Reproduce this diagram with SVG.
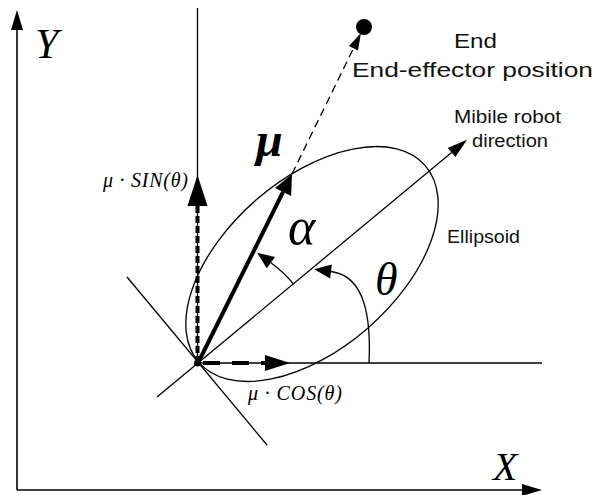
<svg xmlns="http://www.w3.org/2000/svg" width="601" height="495" viewBox="0 0 601 495">
<style>
.thin{stroke:#000;stroke-width:1.3;fill:none}
.ax{stroke:#000;stroke-width:1.6;fill:none}
.thick{stroke:#000;stroke-width:4;fill:none}
.sans{font-family:"Liberation Sans",Arial,sans-serif;fill:#111}
.math{font-family:"Liberation Serif","Times New Roman",serif;font-style:italic;fill:#000}
</style>
<defs>
<marker id="mAx" markerUnits="userSpaceOnUse" orient="auto" refX="0" refY="0" markerWidth="22" markerHeight="14" overflow="visible"><path d="M0,-6 L20,0 L0,6 z" fill="#000"/></marker>
<marker id="mDir" markerUnits="userSpaceOnUse" orient="auto" refX="0" refY="0" markerWidth="22" markerHeight="14" overflow="visible"><path d="M0,-6 L20,0 L0,6 z" fill="#000"/></marker>
<marker id="mMu" markerUnits="userSpaceOnUse" orient="auto" refX="0" refY="0" markerWidth="22" markerHeight="20" overflow="visible"><path d="M0,-9 L20,0 L0,9 z" fill="#000"/></marker>
<marker id="mSin" markerUnits="userSpaceOnUse" orient="auto" refX="0" refY="0" markerWidth="32" markerHeight="22" overflow="visible"><path d="M0,-10 L31,0 L0,10 z" fill="#000"/></marker>
<marker id="mCos" markerUnits="userSpaceOnUse" orient="auto" refX="0" refY="0" markerWidth="26" markerHeight="18" overflow="visible"><path d="M0,-8 L25,0 L0,8 z" fill="#000"/></marker>
<marker id="mEnd" markerUnits="userSpaceOnUse" orient="auto" refX="0" refY="0" markerWidth="18" markerHeight="12" overflow="visible"><path d="M0,-5 L17,0 L0,5 z" fill="#000"/></marker>
<marker id="mArc" markerUnits="userSpaceOnUse" orient="auto" refX="0" refY="0" markerWidth="18" markerHeight="16" overflow="visible"><path d="M0,-7 L17,0 L0,7 z" fill="#000"/></marker>
</defs>

<g id="axes">
<line class="ax" x1="17" y1="490" x2="17" y2="30" marker-end="url(#mAx)"/>
<line class="ax" x1="17" y1="490" x2="522" y2="490" marker-end="url(#mAx)"/>
<text class="math" x="35" y="58" font-size="42">Y</text>
<text class="math" x="493" y="480" font-size="40">X</text>
</g>

<g id="ellipsoid">
<ellipse class="thin" cx="312" cy="264" rx="150" ry="85" transform="rotate(-41 312 264)"/>
<text class="sans" x="447" y="243" font-size="18" textLength="73" lengthAdjust="spacingAndGlyphs">Ellipsoid</text>
</g>

<g id="end-effector">
<circle cx="364" cy="27" r="8" fill="#000"/>
<text class="sans" x="454" y="48" font-size="21" textLength="43" lengthAdjust="spacingAndGlyphs">End</text>
<text class="sans" x="352" y="77" font-size="21" textLength="241" lengthAdjust="spacingAndGlyphs">End-effector position</text>
</g>

<g id="robot-direction-label">
<text class="sans" x="454" y="123" font-size="18" textLength="107" lengthAdjust="spacingAndGlyphs">Mibile robot</text>
<text class="sans" x="472" y="147" font-size="18" textLength="76" lengthAdjust="spacingAndGlyphs">direction</text>
</g>

<g id="connectors">
<line class="thin" x1="197.5" y1="8" x2="197.5" y2="363"/>
<line class="thin" x1="197" y1="363" x2="542" y2="363"/>
<line class="thin" x1="127" y1="277" x2="267" y2="445"/>
<line class="thin" x1="157" y1="397" x2="451.6" y2="152.5" marker-end="url(#mDir)"/>
<line class="thick" x1="198" y1="363" x2="283.1" y2="191.9" marker-end="url(#mMu)"/>
<line class="thin" x1="292" y1="174" x2="353.5" y2="48.3" stroke-dasharray="8 5" marker-end="url(#mEnd)"/>
<line class="thick" x1="197.5" y1="363" x2="197.5" y2="206" stroke-dasharray="7 3" marker-end="url(#mSin)"/>
<line class="thick" x1="203" y1="363" x2="265" y2="363" stroke-width="3.5" stroke-dasharray="17 12" marker-end="url(#mCos)"/>
<path class="thin" d="M293.4,283.8 A124,124 0 0 0 270.9,262.7" marker-end="url(#mArc)"/>
<path class="thin" d="M369,363 C371,320 366,276 331,271.5" marker-end="url(#mArc)"/>
</g>

<g id="origin">
<circle cx="197.5" cy="363" r="3.5" fill="#000"/>
</g>

<g id="labels">
<text class="math" x="256" y="156" font-size="48" font-weight="bold">μ</text>
<text class="math" x="288" y="244" font-size="52">α</text>
<text class="math" x="375" y="295" font-size="46">θ</text>
<text class="math" x="103" y="187" font-size="20" textLength="85" lengthAdjust="spacing">μ · SIN(θ)</text>
<text class="math" x="248" y="400" font-size="20" textLength="94" lengthAdjust="spacing">μ · COS(θ)</text>
</g>
</svg>
